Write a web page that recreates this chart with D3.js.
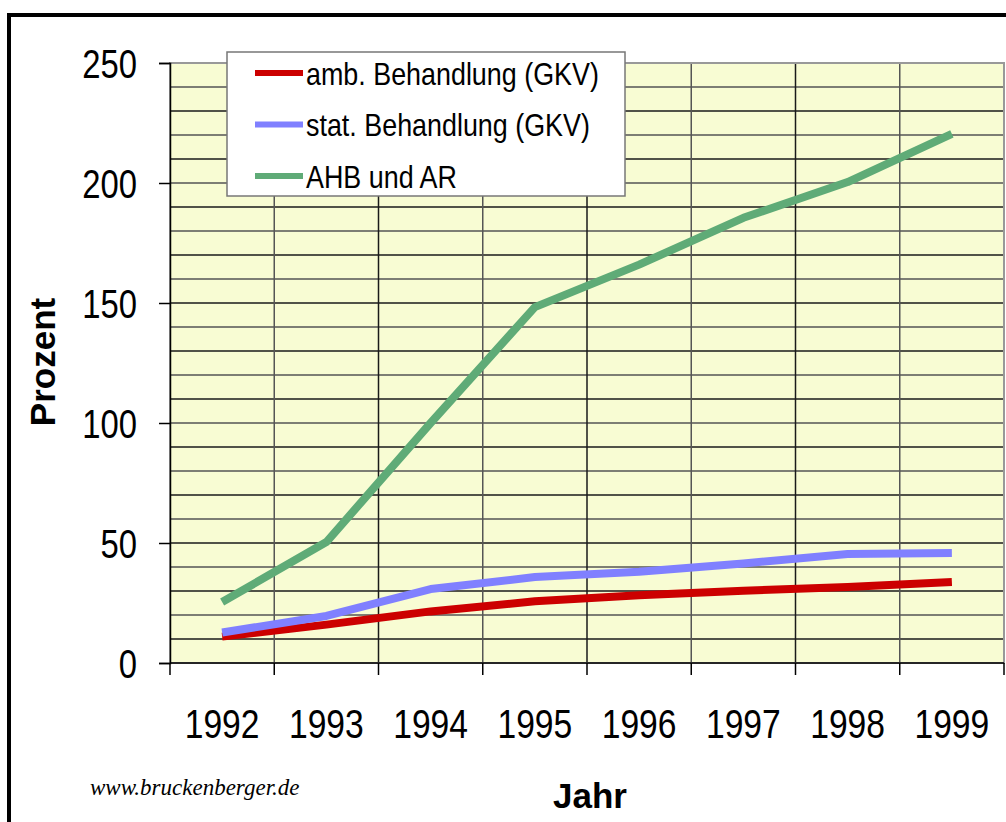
<!DOCTYPE html>
<html>
<head>
<meta charset="utf-8">
<script src="https://cdn.jsdelivr.net/npm/d3@7"></script>
<style>
  body { margin: 0; background: #fff; }
  svg { display: block; }
</style>
</head>
<body>
<svg></svg>
<script>
// data
const years = ['1992','1993','1994','1995','1996','1997','1998','1999'];
const ambBehandlung = [11, 16, 21.5, 25.7, 28.2, 30.1, 31.7, 33.8];
const statBehandlung = [12.7, 19.6, 30.8, 35.8, 38, 41.5, 45.4, 45.8];
const ahbUndAr = [25.4, 50.4, 100, 148.3, 166, 185.5, 200.4, 220.5];
const yTicks = [0, 50, 100, 150, 200, 250];

const seriesNames = ['amb. Behandlung (GKV)', 'stat. Behandlung (GKV)', 'AHB und AR'];
const seriesColors = ['#cc0000', '#8080ff', '#5fab77'];
const seriesData = [ambBehandlung, statBehandlung, ahbUndAr];

const width = 1006, height = 822;
const plot = { left: 170, right: 1004, top: 63, bottom: 663 };
const sans = '"Liberation Sans", Arial, sans-serif';

// no Arial Narrow here, so squeeze the glyphs horizontally;
// anchor is turned into a start position so the squeeze stays put
function narrow(sel, factor) {
  sel.each(function() {
    const t = d3.select(this);
    const w = this.getComputedTextLength();
    const nw = w * factor;
    const anchor = t.attr('text-anchor') || 'start';
    const x0 = +t.attr('x') || 0;
    const shift = anchor === 'end' ? nw : anchor === 'middle' ? nw / 2 : 0;
    t.attr('text-anchor', 'start')
      .attr('x', x0 - shift)
      .attr('textLength', nw)
      .attr('lengthAdjust', 'spacingAndGlyphs');
  });
}

const svg = d3.select('svg')
  .attr('width', width)
  .attr('height', height);

// outer frame
svg.append('rect')
  .attr('x', 9).attr('y', 15)
  .attr('width', 1020).attr('height', 840)
  .attr('fill', 'none')
  .attr('stroke', '#000')
  .attr('stroke-width', 4);

// scales
const x = d3.scaleBand()
  .domain(years)
  .range([plot.left, plot.right]);

const y = d3.scaleLinear()
  .domain([0, 250])
  .range([plot.bottom, plot.top]);

// plot background
svg.append('rect')
  .attr('x', plot.left).attr('y', plot.top)
  .attr('width', plot.right - plot.left)
  .attr('height', plot.bottom - plot.top)
  .attr('fill', '#f8fcd3');

// horizontal gridlines every 10
svg.append('g')
  .selectAll('line')
  .data(d3.range(10, 250, 10))
  .enter()
  .append('line')
  .attr('x1', plot.left).attr('x2', plot.right)
  .attr('y1', d => y(d)).attr('y2', d => y(d))
  .attr('stroke', (d, i) => i % 2 ? '#555' : '#1a1a1a')
  .attr('stroke-width', 1.5);

// vertical gridlines at category borders
svg.append('g')
  .selectAll('line')
  .data(years.slice(1))
  .enter()
  .append('line')
  .attr('x1', d => x(d)).attr('x2', d => x(d))
  .attr('y1', plot.top).attr('y2', plot.bottom)
  .attr('stroke', (d, i) => i % 2 ? '#1a1a1a' : '#555')
  .attr('stroke-width', 1.5);

// plot border (gray)
svg.append('rect')
  .attr('x', plot.left).attr('y', plot.top)
  .attr('width', plot.right - plot.left)
  .attr('height', plot.bottom - plot.top)
  .attr('fill', 'none')
  .attr('stroke', '#999')
  .attr('stroke-width', 2);

// y axis
const yAxis = svg.append('g')
  .attr('transform', `translate(${plot.left},0)`)
  .call(d3.axisLeft(y).tickValues(yTicks).tickSize(11).tickPadding(22));
yAxis.select('.domain').attr('stroke', '#000').attr('stroke-width', 1.5);
yAxis.selectAll('.tick line').attr('stroke', '#000').attr('stroke-width', 1.5);
yAxis.selectAll('.tick text')
  .attr('text-anchor', 'end')
  .attr('font-family', sans)
  .attr('font-size', 40)
  .attr('fill', '#000')
  .attr('dy', '0.36em')
  .call(narrow, 0.82);

// x axis: ticks at band borders, labels at centres
const xAxis = svg.append('g')
  .attr('transform', `translate(0,${plot.bottom})`);
xAxis.append('line')
  .attr('x1', plot.left).attr('x2', plot.right)
  .attr('stroke', '#000').attr('stroke-width', 1.5);
xAxis.selectAll('line.tick')
  .data(years.concat(['end']))
  .enter()
  .append('line')
  .attr('class', 'tick')
  .attr('x1', d => d === 'end' ? plot.right : x(d))
  .attr('x2', d => d === 'end' ? plot.right : x(d))
  .attr('y1', 0).attr('y2', 12)
  .attr('stroke', '#000').attr('stroke-width', 1.5);
xAxis.selectAll('text')
  .data(years)
  .enter()
  .append('text')
  .attr('x', d => x(d) + x.bandwidth() / 2)
  .attr('y', 75)
  .attr('text-anchor', 'middle')
  .attr('font-family', sans)
  .attr('font-size', 41)
  .text(d => d)
  .call(narrow, 0.82);

// lines
const line = d3.line()
  .x((d, i) => x(years[i]) + x.bandwidth() / 2)
  .y(d => y(d));

svg.append('g')
  .selectAll('path')
  .data(seriesData)
  .enter()
  .append('path')
  .attr('d', d => line(d))
  .attr('fill', 'none')
  .attr('stroke', (d, i) => seriesColors[i])
  .attr('stroke-width', 8)
  .attr('stroke-linejoin', 'round');

// legend
const legend = svg.append('g');
legend.append('rect')
  .attr('x', 227).attr('y', 52)
  .attr('width', 398).attr('height', 144)
  .attr('fill', '#fff')
  .attr('stroke', '#777')
  .attr('stroke-width', 1.5);

const legendItems = legend.selectAll('g')
  .data(seriesNames)
  .enter()
  .append('g')
  .attr('transform', (d, i) => `translate(0,${73 + i * 51.5})`);
legendItems.append('line')
  .attr('x1', 255).attr('x2', 303)
  .attr('stroke', (d, i) => seriesColors[i])
  .attr('stroke-width', 6);
legendItems.append('text')
  .attr('x', 306)
  .attr('dy', '0.36em')
  .attr('font-family', sans)
  .attr('font-size', 32)
  .text(d => d)
  .call(narrow, 0.84);

// axis titles
svg.append('text')
  .attr('transform', 'translate(55,362) rotate(-90)')
  .attr('text-anchor', 'middle')
  .attr('font-family', sans)
  .attr('font-weight', 'bold')
  .attr('font-size', 35)
  .text('Prozent');

svg.append('text')
  .attr('x', 590).attr('y', 808)
  .attr('text-anchor', 'middle')
  .attr('font-family', sans)
  .attr('font-weight', 'bold')
  .attr('font-size', 35)
  .text('Jahr');

svg.append('text')
  .attr('x', 90).attr('y', 795)
  .attr('font-family', '"Liberation Serif", "DejaVu Serif", serif')
  .attr('font-style', 'italic')
  .attr('font-size', 23)
  .text('www.bruckenberger.de');
</script>
</body>
</html>
